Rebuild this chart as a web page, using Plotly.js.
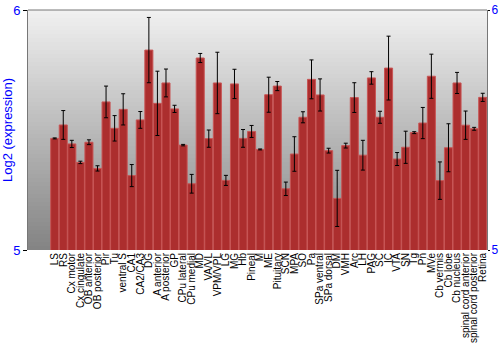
<!DOCTYPE html>
<html>
<head>
<meta charset="utf-8">
<script src="https://cdn.plot.ly/plotly-3.0.1.min.js"></script>
<style>html,body{margin:0;padding:0;background:#fff;}#chart{width:500px;height:350px;}</style>
</head>
<body>
<div id="chart"></div>
<script>
const categories = ["LS","RS","Cx motor","Cx cingulate","OB anterior","OB posterior","Pir","Tu","ventral S","CA1","CA2/CA3","DG","A anterior","A posterior","GP","CPu lateral","CPu medial","MD","VA/VL","VPM/VPL","LG","MG","Hb","Pineal","M","ME","Pituitary","SCN","MPA","SO","Pa","SPa ventral","SPa dorsal","DM","VMH","Arc","LH","PAG","SC","IC","VTA","SN","Tg","Pn","MVe","Cb vermis","Cb lobe","Cb nucleus","spinal cord anterior","spinal cord posterior","Retina"];
const values = [5.465,5.521,5.442,5.365,5.449,5.340,5.617,5.507,5.586,5.310,5.542,5.833,5.611,5.696,5.588,5.437,5.276,5.800,5.464,5.696,5.290,5.692,5.465,5.494,5.419,5.647,5.683,5.255,5.400,5.553,5.711,5.646,5.414,5.215,5.435,5.635,5.395,5.717,5.553,5.758,5.379,5.428,5.489,5.529,5.724,5.289,5.426,5.696,5.520,5.505,5.636];
const errors = [0.002,0.060,0.015,0.005,0.010,0.011,0.066,0.053,0.065,0.046,0.035,0.136,0.134,0.058,0.015,0.003,0.039,0.019,0.036,0.128,0.021,0.061,0.037,0.025,0.002,0.073,0.019,0.028,0.072,0.023,0.081,0.067,0.010,0.117,0.010,0.062,0.062,0.026,0.025,0.133,0.027,0.067,0.004,0.065,0.092,0.078,0.100,0.044,0.059,0.006,0.017];
const yTicks = [5, 6];

// background gradient strips (style only)
const shapes = [];
const N = 60;
for (let i = 0; i < N; i++) {
  const t = i / (N - 1);
  const c = Math.round(240 - t * 108);
  shapes.push({type:'rect', xref:'paper', yref:'paper', x0:0, x1:1,
    y0: 1 - (i+1)/N, y1: 1 - i/N, fillcolor:`rgb(${c},${c},${c})`,
    line:{width:0}, layer:'below'});
}

const trace = {
  type:'bar', x: categories, y: values,
  base: 0,
  marker:{color:'rgb(172,46,46)', line:{color:'rgb(200,85,85)', width:1}},
  error_y:{type:'data', array: errors, visible:true, color:'#000', thickness:1, width:2},
  hoverinfo:'none'
};
const trace2 = {
  type:'scatter', x:[categories[0]], y:[5], yaxis:'y2', mode:'markers',
  marker:{opacity:0}, showlegend:false, hoverinfo:'none'
};

const layout = {
  width:500, height:350,
  margin:{l:28, r:13, t:10, b:100},
  paper_bgcolor:'#fff', plot_bgcolor:'rgba(0,0,0,0)',
  showlegend:false,
  bargap:0.06,
  font:{family:'Liberation Sans, Arial, sans-serif'},
  xaxis:{type:'category', tickmode:'array', tickvals:categories, ticktext:categories,
    tickangle:-90, tickfont:{size:10, color:'#000'}, ticklabelstandoff:0,
    showline:false, ticks:'', showgrid:false, automargin:false},
  yaxis:{range:[5,6], tickvals:yTicks, ticktext:yTicks.map(String),
    tickfont:{size:13, color:'#0000ff'}, ticks:'outside', ticklen:4, tickcolor:'#000',
    showline:true, linecolor:'#777', linewidth:1, mirror:false, showgrid:false, zeroline:false,
    title:{text:'Log2 (expression)', font:{size:13, color:'#0000ff'}, standoff:2}, automargin:false},
  yaxis2:{range:[5,6], overlaying:'y', side:'right', tickvals:yTicks, ticktext:yTicks.map(String),
    tickfont:{size:12, color:'#0000ff'}, ticks:'outside', ticklen:2, tickcolor:'#000',
    ticklabelstandoff:-1,
    showline:true, linecolor:'#777', linewidth:1, showgrid:false, zeroline:false, automargin:false},
  shapes: shapes.concat([{type:'line', xref:'paper', yref:'paper', x0:0, x1:1, y0:1, y1:1, line:{color:'#777', width:1}}])
};

Plotly.newPlot('chart', [trace, trace2], layout, {displayModeBar:false, staticPlot:true});
</script>
</body>
</html>
